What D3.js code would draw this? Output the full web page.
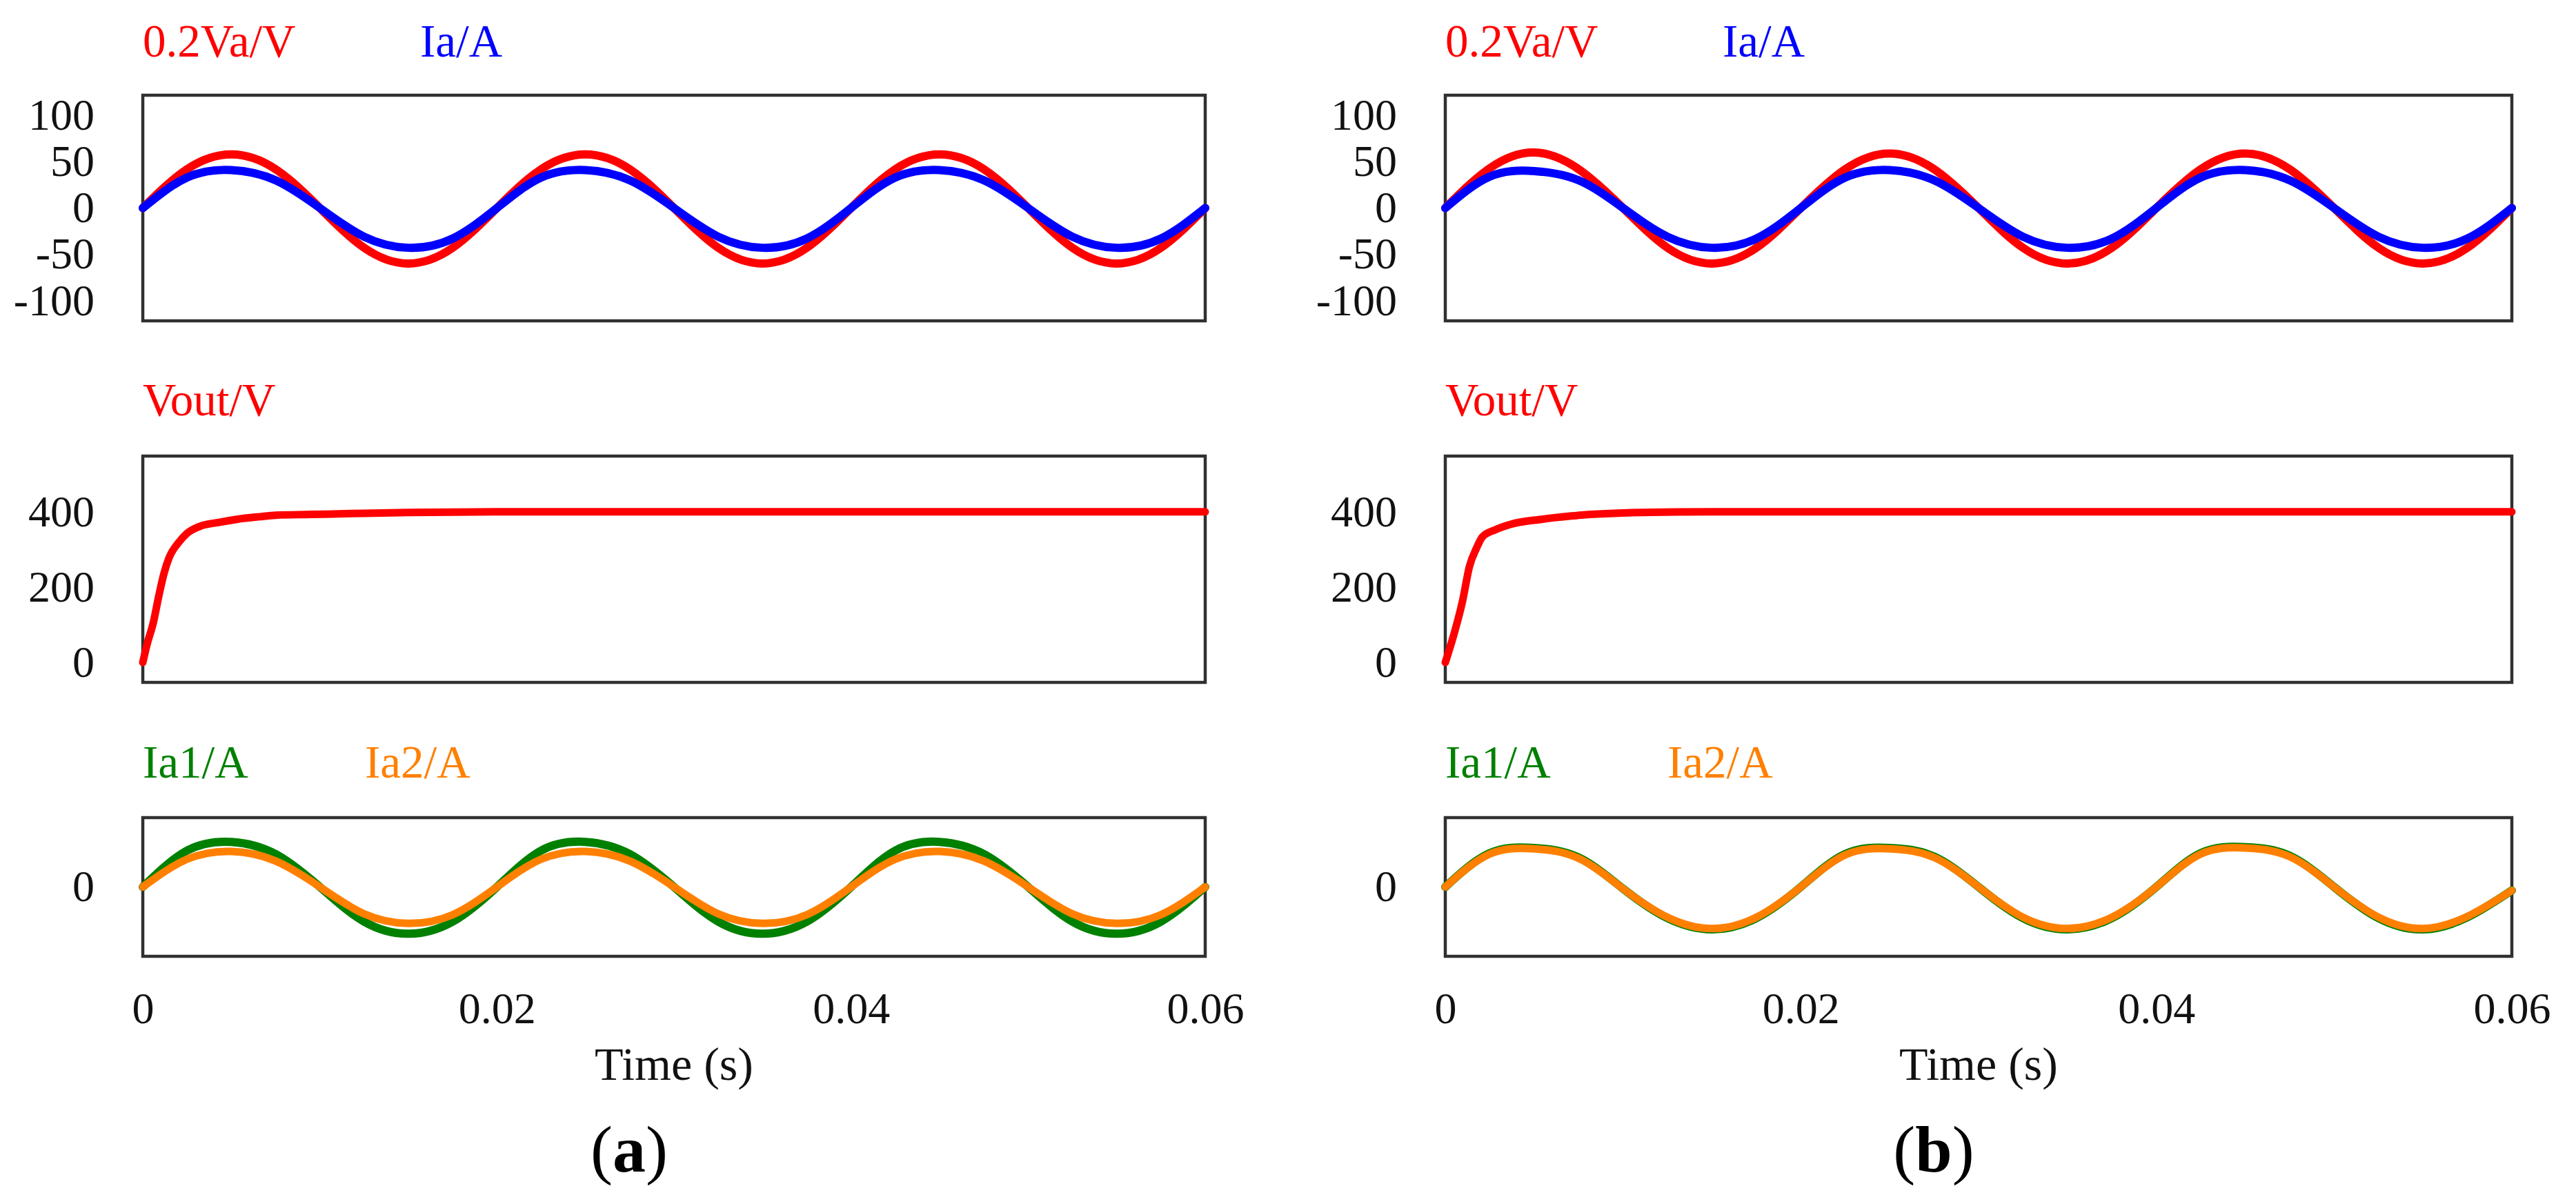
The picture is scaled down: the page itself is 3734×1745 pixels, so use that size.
<!DOCTYPE html>
<html>
<head>
<meta charset="utf-8">
<script src="https://cdn.jsdelivr.net/npm/d3@7"></script>
<style>
body { margin: 0; background: #fff; }
text { font-family: "Liberation Serif", "Times New Roman", serif; }
</style>
</head>
<body>
<div id="fig"></div>
<script>
// ---- data ----
var waveTime = [0, 0.0025, 0.005, 0.0075, 0.01, 0.0125, 0.015, 0.0175, 0.02, 0.0225, 0.025, 0.0275, 0.03,
                0.0325, 0.035, 0.0375, 0.04, 0.0425, 0.045, 0.0475, 0.05, 0.0525, 0.055, 0.0575, 0.06];

// (a) top panel: 0.2Va/V and Ia/A
var vaA = [0, 42, 58, 42, 0, -43, -60, -43, 0, 42, 58, 42, 0, -43, -60, -43, 0, 42, 58, 42, 0, -43, -60, -43, 0];
var iaA = [0, 33, 41, 30, 0, -31, -43, -33, 0, 33, 41, 30, 0, -31, -43, -33, 0, 33, 41, 30, 0, -31, -43, -33, 0];
// (b) top panel
var vaB = [0, 43, 60, 42, 0, -43, -60, -43, 0, 42, 59, 42, 0, -43, -60, -43, 0, 42, 59, 42, 0, -43, -60, -43, 0];
var iaB = [0, 34, 40, 30, 0, -31, -43, -33, 0, 33, 41, 30, 0, -31, -43, -33, 0, 33, 41, 30, 0, -31, -43, -33, 0];

// Vout transients
var voutTimeA = [0, 0.00023, 0.0006, 0.0009, 0.0012, 0.0015, 0.002, 0.0025, 0.0032, 0.0043, 0.0053, 0.0066,
                 0.0075, 0.0095, 0.0125, 0.015, 0.02, 0.03, 0.04, 0.05, 0.06];
var voutA = [0, 46, 107, 176, 237, 280, 317, 343, 361, 372, 380, 387, 391, 393, 396, 398, 400, 400, 400, 400, 400];
var voutTimeB = [0, 0.00047, 0.00097, 0.00136, 0.00175, 0.0021, 0.0028, 0.0037, 0.0054, 0.0071, 0.011,
                 0.015, 0.02, 0.03, 0.04, 0.05, 0.06];
var voutB = [0, 72, 163, 255, 303, 334, 352, 367, 380, 389, 398, 400, 400, 400, 400, 400, 400];

// bottom panel: Ia1/A and Ia2/A
var ia1A = [0, 21, 26, 19, 0, -20, -27, -20, 0, 21, 26, 19, 0, -20, -27, -20, 0, 21, 26, 19, 0, -20, -27, -20, 0];
var ia2A = [0, 16, 20.5, 15, 0, -15.5, -21, -16, 0, 16, 20.5, 15, 0, -15.5, -21, -16, 0, 16, 20.5, 15, 0, -15.5, -21, -16, 0];
var ia1B = [0, 19.5, 22.5, 17, -1, -18, -24.5, -18, 0, 19, 22.5, 17.5, 0, -18, -24.5, -18, 0, 19.5, 23, 18, 0, -18, -24.5, -17.5, -2];
var ia2B = [0, 19, 22, 16.5, -1, -17.5, -24, -17.5, 0, 18.5, 22, 17, 0, -17.5, -24, -17.5, 0, 19, 22.5, 17.5, 0, -17.5, -24, -17, -2];

var timeTicks = [0, 0.02, 0.04, 0.06];
var topTicks = [-100, -50, 0, 50, 100];
var midTicks = [0, 200, 400];
var lowTicks = [0];

// ---- layout ----
var width = 3734, height = 1745;
var svg = d3.select("#fig").append("svg")
    .attr("width", width)
    .attr("height", height);
svg.append("rect").attr("width", width).attr("height", height).attr("fill", "#fff");

var cols = [
    {left: 207, right: 1747, tag: "a", va: vaA, ia: iaA, vt: voutTimeA, vo: voutA, i1: ia1A, i2: ia2A},
    {left: 2095, right: 3641, tag: "b", va: vaB, ia: iaB, vt: voutTimeB, vo: voutB, i1: ia1B, i2: ia2B}
];
var rows = {
    top: {y0: 138, y1: 465, domain: [-122, 122], ticks: topTicks},
    mid: {y0: 661, y1: 989, domain: [-53, 548], ticks: midTicks},
    low: {y0: 1185, y1: 1386, domain: [-40, 40], ticks: lowTicks}
};

function panel(col, row, x, series, labels) {
    var y = d3.scaleLinear().domain(row.domain).range([row.y1, row.y0]);

    // frame
    svg.append("rect")
        .attr("x", col.left).attr("y", row.y0)
        .attr("width", col.right - col.left).attr("height", row.y1 - row.y0)
        .attr("fill", "none").attr("stroke", "#303030").attr("stroke-width", 4.5);

    // y axis
    svg.append("g")
        .attr("transform", "translate(" + col.left + ",0)")
        .call(d3.axisLeft(y).tickValues(row.ticks).tickSize(0).tickPadding(70).tickFormat(d => String(d)))
        .call(g => g.select(".domain").remove())
        .attr("font-family", "Liberation Serif, Times New Roman, serif")
        .attr("font-size", 64)
        .selectAll("text").attr("fill", "#111");

    // lines
    series.forEach(function(s) {
        var line = d3.line()
            .x(function(d, i) { return x(s.t[i]); })
            .y(function(d) { return y(d); })
            .curve(s.curve);
        svg.append("path")
            .datum(s.v)
            .attr("d", line)
            .attr("fill", "none")
            .attr("stroke", s.color)
            .attr("stroke-width", s.w)
            .attr("stroke-linejoin", "round")
            .attr("stroke-linecap", "round");
    });

    // legend labels above the frame
    labels.forEach(function(l) {
        svg.append("text")
            .attr("x", col.left + l.dx)
            .attr("y", l.y)
            .attr("font-size", 67)
            .attr("fill", l.color)
            .text(l.text);
    });
    return y;
}

cols.forEach(function(col) {
    var x = d3.scaleLinear().domain([0, 0.06]).range([col.left, col.right]);
    var wave = d3.curveNatural;

    panel(col, rows.top, x, [
        {t: waveTime, v: col.va, color: "#ff0000", w: 12, curve: wave},
        {t: waveTime, v: col.ia, color: "#0000ff", w: 12, curve: wave}
    ], [
        {text: "0.2Va/V", dx: 0, y: 82, color: "#ff0000"},
        {text: "Ia/A", dx: 402, y: 82, color: "#0000ff"}
    ]);

    panel(col, rows.mid, x, [
        {t: col.vt, v: col.vo, color: "#ff0000", w: 11, curve: d3.curveMonotoneX}
    ], [
        {text: "Vout/V", dx: 0, y: 602, color: "#ff0000"}
    ]);

    panel(col, rows.low, x, [
        {t: waveTime, v: col.i1, color: "#008000", w: 12, curve: wave},
        {t: waveTime, v: col.i2, color: "#ff8000", w: 11, curve: wave}
    ], [
        {text: "Ia1/A", dx: 0, y: 1127, color: "#008000"},
        {text: "Ia2/A", dx: 322, y: 1127, color: "#ff8000"}
    ]);

    // time axis under the bottom panel
    svg.append("g")
        .attr("transform", "translate(0," + rows.low.y1 + ")")
        .call(d3.axisBottom(x).tickValues(timeTicks).tickSize(0).tickPadding(52)
            .tickFormat(d => d === 0 ? "0" : d3.format(".2f")(d)))
        .call(g => g.select(".domain").remove())
        .attr("font-family", "Liberation Serif, Times New Roman, serif")
        .attr("font-size", 64)
        .selectAll("text").attr("fill", "#111");

    var mid = (col.left + col.right) / 2;
    svg.append("text")
        .attr("x", mid).attr("y", 1565)
        .attr("text-anchor", "middle")
        .attr("font-size", 68)
        .attr("fill", "#111")
        .text("Time (s)");

    var cap = svg.append("text")
        .attr("x", mid - 65).attr("y", 1698)
        .attr("text-anchor", "middle")
        .attr("font-size", 96)
        .attr("fill", "#000");
    cap.append("tspan").text("(");
    cap.append("tspan").attr("font-weight", "bold").text(col.tag);
    cap.append("tspan").text(")");
});
</script>
</body>
</html>
